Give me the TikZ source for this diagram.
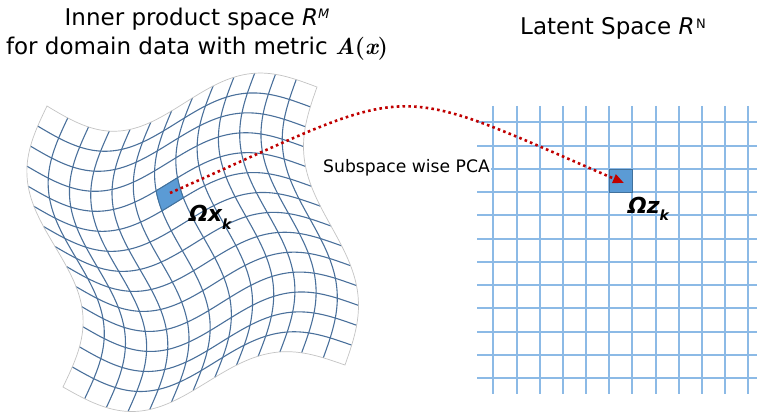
\documentclass[tikz,border=0pt]{standalone}
\usepackage{fontspec}
\setmainfont{DejaVu Sans}
\usetikzlibrary{arrows.meta}
\definecolor{lgridc}{RGB}{74,112,155}
\definecolor{rgridc}{RGB}{140,186,230}
\definecolor{cellfill}{RGB}{91,155,213}
\definecolor{celledge}{RGB}{65,113,156}
\definecolor{outc}{RGB}{195,195,195}
\definecolor{redc}{RGB}{192,0,0}
\newcommand{\bimath}[1]{{\fontfamily{lmr}\fontseries{bx}\fontshape{it}\selectfont #1}}
\newcommand{\bupr}[1]{{\fontfamily{lmr}\fontseries{bx}\fontshape{n}\selectfont #1}}
\begin{document}
\begin{tikzpicture}[x=1pt,y=-1pt,
  declare function={
    gx(\ua,\va) = (1-\ua)*(1-\va)*47 + \ua*(1-\va)*317 + (1-\ua)*\va*63 + \ua*\va*345 - (24-4*\ua)*sin(360*\va);
    gy(\ua,\va) = (1-\ua)*(1-\va)*106 + \ua*(1-\va)*87 + (1-\ua)*\va*387 + \ua*\va*365 + 24*sin(360*\ua) + 32*\ua*(1-\ua);
  },
  lgrid/.style={draw=lgridc, line width=1.1pt},
  lout/.style={draw=outc, line width=0.7pt},
  rgrid/.style={draw=rgridc, line width=2pt},
  cellbox/.style={fill=cellfill, draw=celledge, line width=0.9pt},
  title/.style={inner sep=0pt, font=\fontsize{23}{28}\selectfont},
  plain/.style={inner sep=1pt, font=\fontsize{17.2}{20}\selectfont},
  lab/.style={inner sep=0pt, font=\fontsize{22}{24}\selectfont\bfseries\itshape},
  parrow/.style={draw=redc, line width=2.6pt, dash pattern=on 2.6pt off 3.2pt,
    -{Triangle[length=11pt,width=9pt,fill=redc]}}
]
\useasboundingbox (0,0) rectangle (757,414);

% ---- left warped grid ----
\foreach \i in {1,...,12}{
  \draw[lgrid] plot[variable=\w,domain=0:1,samples=41,smooth] ({gx(\i/13,\w)},{gy(\i/13,\w)});
}
\foreach \j in {1,...,13}{
  \draw[lgrid] plot[variable=\w,domain=0:1,samples=41,smooth] ({gx(\w,\j/14)},{gy(\w,\j/14)});
}
\draw[lout] plot[variable=\w,domain=0:1,samples=41,smooth] ({gx(\w,0)},{gy(\w,0)})
  -- plot[variable=\w,domain=0:1,samples=41,smooth] ({gx(1,\w)},{gy(1,\w)})
  -- plot[variable=\w,domain=1:0,samples=41,smooth] ({gx(\w,1)},{gy(\w,1)})
  -- plot[variable=\w,domain=1:0,samples=41,smooth] ({gx(0,\w)},{gy(0,\w)}) -- cycle;
\path[cellbox] plot[variable=\w,domain=0.461538:0.538462,samples=6] ({gx(\w,0.285714)},{gy(\w,0.285714)})
  -- plot[variable=\w,domain=0.285714:0.357143,samples=6] ({gx(0.538462,\w)},{gy(0.538462,\w)})
  -- plot[variable=\w,domain=0.538462:0.461538,samples=6] ({gx(\w,0.357143)},{gy(\w,0.357143)})
  -- plot[variable=\w,domain=0.357143:0.285714,samples=6] ({gx(0.461538,\w)},{gy(0.461538,\w)}) -- cycle;

% ---- right regular grid (snapped to whole pixels) ----
\foreach \k in {0,...,11}{
  \pgfmathsetmacro{\gxk}{round(493.3+23.2*\k)}
  \pgfmathsetmacro{\gyk}{round(122.3+23.25*\k)}
  \draw[rgrid] (\gxk,106) -- (\gxk,394);
  \draw[rgrid] (477,\gyk) -- (757,\gyk);
}
\path[cellbox] (609,169) rectangle (632,192);

% ---- texts ----
\node[title, anchor=base] (t1) at (197,26) {Inner product space \textit{R}\raisebox{7pt}{\fontsize{13}{13}\selectfont\textit{M}}};
\node[title, anchor=base] (t2) at (197,55) {for domain data with metric \bimath{A}\bupr{(}\bimath{x}\bupr{)}};
\node[title, anchor=base west] (t3) at (520,35) {Latent Space \textit{R}\kern1.5pt\raisebox{6pt}{\fontsize{13}{13}\selectfont N}};
\node[plain, anchor=base west, fill=white] (pca) at (322,172) {Subspace wise PCA};
\node[lab, anchor=base west] (ox) at (189,222) {Ωx\raisebox{-7pt}{\fontsize{14}{14}\selectfont k}};
\node[lab, anchor=base west] (oz) at (628,213) {Ωz\raisebox{-7pt}{\fontsize{14}{14}\selectfont k}};

% ---- mapping arrow ----
\coordinate (xk) at (170,193);
\coordinate (zk) at (624,183);
\draw[parrow] (xk) .. controls (421.6,82.3) and (380.4,77.7) .. (zk);
\end{tikzpicture}
\end{document}
